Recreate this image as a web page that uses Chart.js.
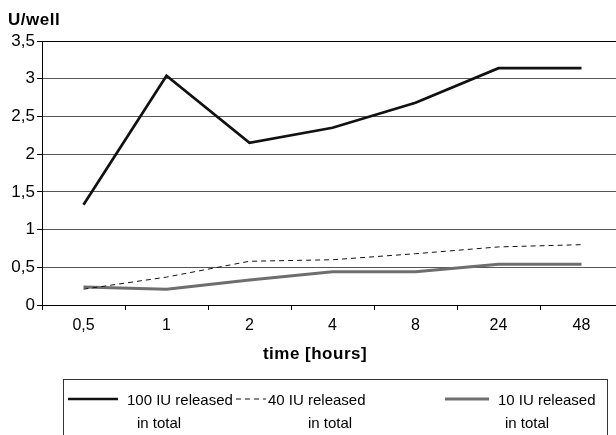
<!DOCTYPE html>
<html>
<head>
<meta charset="utf-8">
<script src="https://cdn.jsdelivr.net/npm/chart.js@4/dist/chart.umd.min.js"></script>
<style>
  html, body { margin: 0; padding: 0; background: #fff; overflow: hidden; }
  #wrap { width: 624px; height: 435px; position: relative; }
</style>
</head>
<body>
<div id="wrap"><canvas id="c" width="624" height="435"></canvas></div>
<script>
const categories = ['0,5', '1', '2', '4', '8', '24', '48'];
const series100 = [1.33, 3.04, 2.15, 2.35, 2.68, 3.14, 3.14];
const series40 = [0.21, 0.37, 0.58, 0.60, 0.68, 0.77, 0.80];
const series10 = [0.24, 0.21, 0.33, 0.44, 0.44, 0.54, 0.54];
const seriesNames = [['100 IU released', 'in total'], ['40 IU released', 'in total'], ['10 IU released', 'in total']];
const yTitle = 'U/well';
const xTitle = 'time [hours]';

const FONT = "'Liberation Sans', Arial, sans-serif";

const extras = {
  id: 'extras',
  afterDraw(chart) {
    const ctx = chart.ctx;
    ctx.save();
    ctx.fillStyle = '#000';
    ctx.textBaseline = 'alphabetic';
    ctx.font = 'bold 17px ' + FONT;
    ctx.textAlign = 'left';
    if ('letterSpacing' in ctx) ctx.letterSpacing = '0.5px';
    ctx.fillText(yTitle, 8, 25);
    ctx.textAlign = 'center';
    ctx.fillText(xTitle, 315, 359);
    if ('letterSpacing' in ctx) ctx.letterSpacing = '0px';

    // legend box
    ctx.strokeStyle = '#333';
    ctx.lineWidth = 1;
    ctx.strokeRect(63.5, 379.5, 544, 70);

    const items = [
      { x1: 68, x2: 118, tx: 127, tx2: 137 },
      { x1: 236, x2: 266, tx: 268, tx2: 308 },
      { x1: 445, x2: 489, tx: 498, tx2: 505 }
    ];
    ctx.font = '15px ' + FONT;
    ctx.textAlign = 'left';
    chart.data.datasets.forEach((ds, i) => {
      const it = items[i];
      ctx.beginPath();
      ctx.strokeStyle = ds.borderColor;
      ctx.lineWidth = ds.borderWidth;
      ctx.setLineDash(ds.borderDash || []);
      ctx.moveTo(it.x1, 399);
      ctx.lineTo(it.x2, 399);
      ctx.stroke();
      ctx.setLineDash([]);
      ctx.fillStyle = '#000';
      ctx.fillText(seriesNames[i][0], it.tx, 405);
      ctx.fillText(seriesNames[i][1], it.tx2, 428);
    });
    ctx.restore();
  }
};

new Chart(document.getElementById('c'), {
  type: 'line',
  data: {
    labels: categories,
    datasets: [
      { label: seriesNames[0].join(' '), data: series100, borderColor: '#111', borderWidth: 2.7, pointRadius: 0, tension: 0, fill: false },
      { label: seriesNames[1].join(' '), data: series40, borderColor: '#111', borderWidth: 1, borderDash: [5, 4], pointRadius: 0, tension: 0, fill: false },
      { label: seriesNames[2].join(' '), data: series10, borderColor: '#6e6e6e', borderWidth: 3, pointRadius: 0, tension: 0, fill: false }
    ]
  },
  options: {
    responsive: false,
    animation: false,
    devicePixelRatio: 1,
    layout: { padding: { top: 41, right: 1, bottom: 70, left: 0 } },
    plugins: { legend: { display: false }, tooltip: { enabled: false }, title: { display: false } },
    scales: {
      x: {
        offset: true,
        grid: { offset: true, drawOnChartArea: false, drawTicks: true, tickLength: 5, tickColor: '#000' },
        border: { display: true, color: '#000', width: 1 },
        ticks: { color: '#000', font: { family: FONT, size: 16 }, padding: 6, maxRotation: 0, autoSkip: false },
        afterFit(scale) { scale.height = 60; }
      },
      y: {
        min: 0, max: 3.5,
        grid: {
          color: (c) => (c.tick && c.tick.value === 3.5 ? '#000' : '#555'),
          lineWidth: 1,
          drawTicks: true, tickLength: 5, tickColor: '#000'
        },
        border: { display: true, color: '#000', width: 1 },
        ticks: {
          stepSize: 0.5, color: '#000', padding: 2,
          font: { family: FONT, size: 17 },
          callback: (v) => String(v).replace('.', ',')
        },
        afterFit(scale) { scale.width = 42; }
      }
    }
  },
  plugins: [extras]
});
</script>
</body>
</html>
